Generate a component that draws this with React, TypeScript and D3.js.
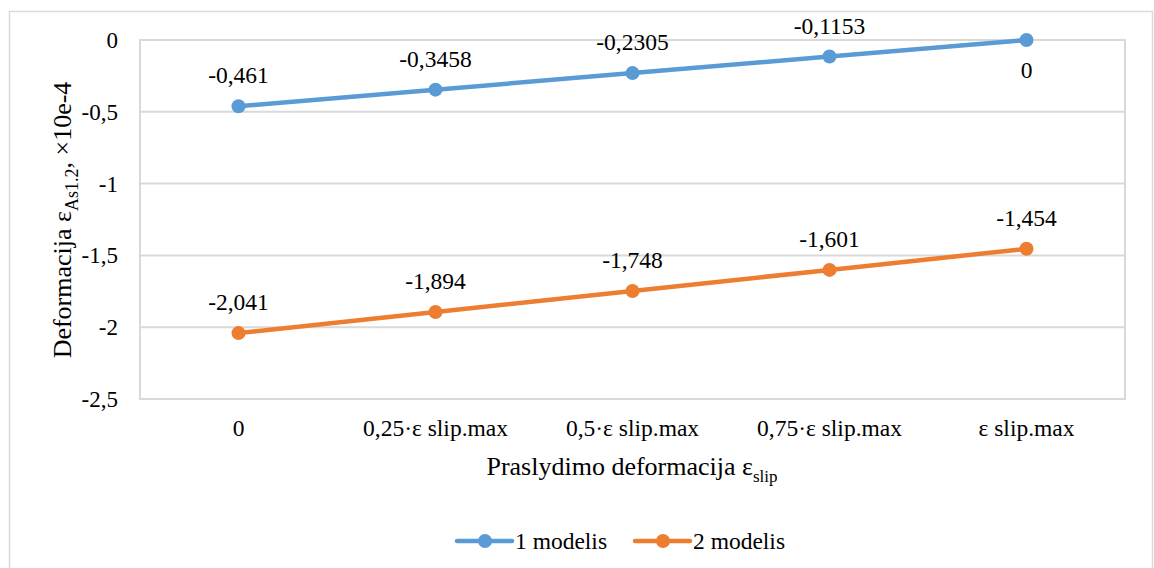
import React from "react";
import * as d3 from "d3";

const categories = ["0", "0,25·ε slip.max", "0,5·ε slip.max", "0,75·ε slip.max", "ε slip.max"];
const series1 = [-0.461, -0.3458, -0.2305, -0.1153, 0];
const series2 = [-2.041, -1.894, -1.748, -1.601, -1.454];
const seriesNames = ["1 modelis", "2 modelis"];
const seriesColors = ["#5b9bd5", "#ed7d31"];
const yTicks = [0, -0.5, -1, -1.5, -2, -2.5];

const W = 1154;
const H = 568;
const left = 140;
const right = 1125;
const top = 40;
const bottom = 399;
const TS: React.CSSProperties = { fontFamily: "'Liberation Serif', 'Times New Roman', Tinos, serif" };
const fmt = (v: number) => String(v).replace(".", ",");

export default function App() {
  const x = d3.scaleBand<string>().domain(categories).range([left, right]);
  const y = d3.scaleLinear().domain([-2.5, 0]).range([bottom, top]);
  const cx = (c: string) => (x(c) as number) + x.bandwidth() / 2;
  const line = d3
    .line<number>()
    .x((_, i) => cx(categories[i]))
    .y((d) => y(d));
  const all = [series1, series2];

  return (
    <svg width={W} height={H} style={{ position: "absolute", left: 0, top: 0, background: "#fff" }}>
      <rect x={9.5} y={11.5} width={1143} height={570} fill="#fff" stroke="#d9d9d9" strokeWidth={1.5} />
      {yTicks.map((t) => (
        <g key={t}>
          <line x1={left} x2={right} y1={y(t)} y2={y(t)} stroke="#d9d9d9" strokeWidth={2} />
          <text x={118} y={y(t)} dy="0.35em" textAnchor="end" fontSize={23} fill="#000" style={TS}>
            {fmt(t)}
          </text>
        </g>
      ))}
      <rect x={left} y={top} width={right - left} height={bottom - top} fill="none" stroke="#d9d9d9" strokeWidth={2} />
      {categories.map((c) => (
        <text key={c} x={cx(c)} y={436} textAnchor="middle" fontSize={23.5} fill="#000" style={TS}>
          {c}
        </text>
      ))}
      <text x={632} y={475} textAnchor="middle" fontSize={26} fill="#000" style={TS}>
        Praslydimo deformacija ε<tspan fontSize={17} dy={7}>slip</tspan>
      </text>
      <text
        transform={`translate(71, 220) rotate(-90)`}
        textAnchor="middle"
        fontSize={26}
        fill="#000"
        style={TS}
      >
        Deformacija ε<tspan fontSize={18} dy={7}>As1.2</tspan>
        <tspan dy={-7}>, ×10e-4</tspan>
      </text>
      {all.map((s, si) => (
        <g key={si}>
          <path d={line(s) || ""} fill="none" stroke={seriesColors[si]} strokeWidth={4.5} strokeLinecap="round" />
          {s.map((v, i) => (
            <circle key={i} cx={cx(categories[i])} cy={y(v)} r={7} fill={seriesColors[si]} />
          ))}
          {s.map((v, i) => (
            <text
              key={"l" + i}
              x={cx(categories[i])}
              y={v === 0 ? y(v) + 38 : y(v) - 23}
              textAnchor="middle"
              fontSize={23.5}
              fill="#000"
              style={TS}
            >
              {fmt(v)}
            </text>
          ))}
        </g>
      ))}
      {seriesNames.map((n, i) => {
        const lx = i === 0 ? 457 : 635;
        const ly = 541;
        return (
          <g key={n}>
            <line x1={lx} x2={lx + 55} y1={ly} y2={ly} stroke={seriesColors[i]} strokeWidth={4.5} strokeLinecap="round" />
            <circle cx={lx + 28} cy={ly} r={7} fill={seriesColors[i]} />
            <text x={lx + 58} y={ly} dy="0.35em" fontSize={23.5} fill="#000" style={TS}>
              {n}
            </text>
          </g>
        );
      })}
    </svg>
  );
}
